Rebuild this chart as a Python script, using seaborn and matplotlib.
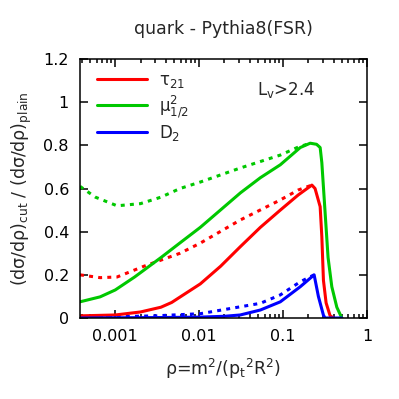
import matplotlib
matplotlib.use("Agg")
import matplotlib.pyplot as plt
import seaborn as sns
from matplotlib.ticker import LogLocator, FixedLocator, NullFormatter

# values (rho, ratio)
tau_x = [0.00038, 0.001, 0.002, 0.0035, 0.0047, 0.0059, 0.0103, 0.018, 0.0308, 0.0535, 0.0925, 0.151,
         0.22, 0.24, 0.276, 0.289, 0.302, 0.325, 0.363, 0.40]
tau_y = [0.01, 0.014, 0.028, 0.05, 0.072, 0.097, 0.158, 0.24, 0.33, 0.42, 0.50, 0.57,
         0.616, 0.60, 0.516, 0.377, 0.175, 0.07, 0.01, 0.0]
tau_dot_x = [0.00038, 0.00066, 0.00105, 0.0022, 0.0059, 0.0103, 0.0308, 0.0925, 0.151, 0.22]
tau_dot_y = [0.20, 0.187, 0.19, 0.24, 0.30, 0.347, 0.454, 0.547, 0.593, 0.616]

mu_x = [0.00038, 0.00066, 0.001, 0.0017, 0.0035, 0.0059, 0.0103, 0.031, 0.0535, 0.0925,
        0.16, 0.21, 0.25, 0.276, 0.289, 0.316, 0.343, 0.38, 0.436, 0.50]
mu_y = [0.075, 0.098, 0.13, 0.19, 0.28, 0.348, 0.42, 0.58, 0.65, 0.71,
        0.79, 0.81, 0.805, 0.79, 0.72, 0.49, 0.28, 0.145, 0.05, 0.0]
mu_dot_x = [0.00038, 0.00058, 0.00105, 0.002, 0.0035, 0.0059, 0.0103, 0.0308, 0.0925, 0.147, 0.21]
mu_dot_y = [0.61, 0.56, 0.52, 0.53, 0.56, 0.60, 0.63, 0.695, 0.755, 0.79, 0.81]

d2_x = [0.00038, 0.003, 0.01, 0.02, 0.0308, 0.0535, 0.0925, 0.16, 0.234, 0.263, 0.302, 0.316, 0.50]
d2_y = [0.0, 0.002, 0.004, 0.008, 0.014, 0.037, 0.075, 0.145, 0.20, 0.10, 0.013, 0.0, 0.0]
d2_dot_x = [0.00038, 0.001, 0.003, 0.0103, 0.0535, 0.0925, 0.16, 0.234]
d2_dot_y = [0.003, 0.006, 0.01, 0.02, 0.068, 0.107, 0.168, 0.20]

RED, GREEN, BLUE = "#ff0000", "#00c800", "#0000ff"
LW = 2.2
DOT = (0, (1.3, 1.7))

sns.set_style("ticks")
plt.rcParams["font.family"] = ["DejaVu Sans"]
plt.rcParams["mathtext.default"] = "regular"

fig = plt.figure(figsize=(3.99, 3.99), dpi=100)
ax = fig.add_axes([0.2005, 0.203, 0.7195, 0.649])

sns.lineplot(x=tau_dot_x, y=tau_dot_y, ax=ax, color=RED, lw=LW, linestyle=DOT, sort=False)
sns.lineplot(x=mu_dot_x, y=mu_dot_y, ax=ax, color=GREEN, lw=LW, linestyle=DOT, sort=False)
sns.lineplot(x=d2_dot_x, y=d2_dot_y, ax=ax, color=BLUE, lw=LW, linestyle=DOT, sort=False)
sns.lineplot(x=tau_x, y=tau_y, ax=ax, color=RED, lw=LW, sort=False, label=r"τ$_{21}$")
sns.lineplot(x=mu_x, y=mu_y, ax=ax, color=GREEN, lw=LW, sort=False, label=r"μ$^{2}_{1/2}$")
sns.lineplot(x=d2_x, y=d2_y, ax=ax, color=BLUE, lw=LW, sort=False, label=r"D$_{2}$")

ax.set_xscale("log")
ax.set_xlim(0.00038, 1)
ax.set_ylim(0, 1.2)
ax.xaxis.set_major_locator(FixedLocator([0.001, 0.01, 0.1, 1]))
ax.set_xticklabels(["0.001", "0.01", "0.1", "1"])
ax.xaxis.set_minor_locator(LogLocator(base=10, subs=range(2, 10), numticks=20))
ax.xaxis.set_minor_formatter(NullFormatter())
ax.set_yticks([0, 0.2, 0.4, 0.6, 0.8, 1.0, 1.2])
ax.set_yticklabels(["0", "0.2", "0.4", "0.6", "0.8", "1", "1.2"])
ax.tick_params(which="both", direction="in", top=True, right=True, labelsize=11.5, width=1.1, colors="black")
ax.tick_params(which="major", length=6, pad=8)
ax.tick_params(which="minor", length=3)
for s in ax.spines.values():
    s.set_linewidth(1.1)
    s.set_color("black")

ax.set_xlabel(r"ρ=m$^{2}$/(p$_{t}$$^{2}$R$^{2}$)", fontsize=12.5, labelpad=9)
ax.set_ylabel(r"(dσ/dρ)$_{cut}$ / (dσ/dρ)$_{plain}$", fontsize=12.5, labelpad=7)
ax.set_title("quark - Pythia8(FSR)", fontsize=12.5, pad=18)
ax.text(0.617, 0.88, r"L$_{v}$>2.4", transform=ax.transAxes, fontsize=12, va="center", ha="left")

ax.legend(loc="upper left", bbox_to_anchor=(0.02, 1.0), frameon=False, fontsize=12,
          handlelength=3.0, handletextpad=0.7, labelspacing=0.2, borderaxespad=0.3)

fig.savefig("out.png", dpi=100)
